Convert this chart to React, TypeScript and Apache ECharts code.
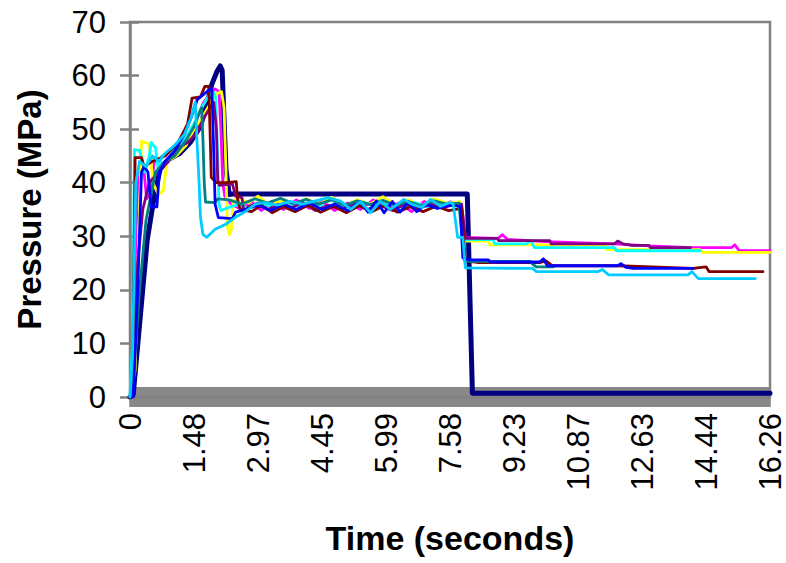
import React, { useEffect, useRef } from "react";
import * as echarts from "echarts";

// Category tick labels (time in seconds) shown every 100 samples
const TICK_LABELS = ["0", "1.48", "2.97", "4.45", "5.99", "7.58", "9.23", "10.87", "12.63", "14.44", "16.26"];
const SAMPLES_PER_LABEL = 100;
const SAMPLE_MAX = 1000;

const Y_MIN = 0;
const Y_MAX = 70;
const Y_STEP = 10;

// Each series: [sample index, pressure MPa]
const run1: number[][] = [[0,0],[5,0.4],[27,29.4],[38,37.5],[47,42.5],[60,44.3],[78,45.5],[94,47.5],[110,50.5],[120,54.6],[128,58.4],[136,60.8],[141,61.8],[144,61],[147,51.8],[150,42.5],[155,37.8],[160,37.9],[527,37.9],[535,0.7],[1000,0.7]];
const run2: number[][] = [[0,0],[5,1.5],[9,30],[13,42],[22,42],[26,37],[32,38],[38,44],[50,43.5],[65,45],[80,46.5],[95,49],[105,52],[115,55],[125,56.5],[133,57.5],[139,57],[142,50],[145,40],[148,37.5],[158,36],[175,35],[190,36.5],[205,34.8],[222,36.5],[240,35],[260,36.8],[280,35.2],[300,36.5],[320,34.8],[340,36.2],[360,35],[380,36.8],[400,35.4],[420,36.2],[440,34.6],[460,36.5],[480,35.3],[500,36.4],[518,36],[524,29.8],[575,29.6],[582,30.3],[590,29.4],[650,29],[757,28.6],[811,28.2],[876,27.9],[940,27.9],[945,28.4],[952,27.3],[1000,27.3]];
const run3: number[][] = [[0,0],[8,5],[18,47.8],[30,47.2],[36,40],[44,37.8],[52,38.5],[58,44],[72,45],[88,47],[100,50],[112,52],[124,54.5],[134,56.5],[143,57],[147,54],[150,42],[152,32],[155,30.3],[158,31],[161,36.5],[170,37.2],[185,36.2],[200,37.5],[218,35.8],[235,36.6],[255,35.6],[275,37],[295,36],[315,37.3],[335,35.6],[355,36.8],[375,36],[395,37.4],[415,35.8],[435,36.8],[455,35.6],[475,37],[495,36.2],[516,36.4],[524,29.1],[560,29.1],[562,28.4],[742,28.4],[745,27.5],[891,27.5],[895,27],[1000,27]];
const run4: number[][] = [[0,0],[4,10],[7,46.2],[15,46],[23,42],[30,45],[33,47.5],[40,46.5],[44,42.5],[50,45],[65,46],[85,48],[100,51],[112,54],[122,56],[130,57],[134,56],[137,45],[139,36],[142,34.8],[150,35.2],[165,35.8],[185,35.3],[205,36.2],[225,35.4],[245,36.3],[265,35.5],[285,36.5],[305,35.4],[325,36.2],[345,35.3],[365,36.4],[385,35.5],[405,36.2],[425,35.4],[445,36.3],[465,35.5],[485,36.2],[505,35.8],[514,35.8],[522,29.4],[567,29.4],[570,28.6],[620,28.6],[626,29.3],[632,27.9],[757,27.9],[760,27.3],[891,27.3]];
const run5: number[][] = [[0,0],[5,1],[12,25],[20,35],[30,40],[45,42],[60,44],[75,46.5],[90,47.5],[105,49.4],[115,52],[125,54],[131,55],[135,50],[137,40.5],[140,39.5],[160,39.8],[165,37.5],[175,37.2],[178,34.5],[185,35.5],[200,36.2],[215,35],[232,36],[250,35.2],[270,36.3],[290,34.8],[310,35.8],[330,35],[350,36.2],[370,35],[390,35.8],[410,34.8],[430,36],[450,35.2],[470,36],[490,35.4],[510,36],[518,36],[524,29.6],[574,29.6],[576,29.2],[656,29.2],[658,28.6],[757,28.6],[762,29.1],[770,28.6],[784,28.3],[811,28.3],[813,27.9],[876,27.9]];
const run6: number[][] = [[0,0],[4,1],[8,44.7],[18,44.7],[22,43],[35,44],[55,45],[75,47.5],[90,51],[97,55.8],[110,56],[117,58],[123,58],[125,50],[127,41],[135,40],[150,40],[166,40.2],[168,37],[172,35],[190,34.6],[205,35.8],[222,34.4],[240,35.5],[258,34.6],[278,35.8],[298,34.5],[318,35.6],[338,34.4],[358,35.7],[378,34.6],[398,35.8],[418,34.5],[438,35.5],[458,34.6],[478,35.6],[498,34.8],[518,35.2],[524,25.4],[545,25.1],[640,25.1],[650,25.4],[660,24.5],[762,24.5],[880,24],[900,24.3],[905,23.4],[989,23.4]];
const run7: number[][] = [[0,0],[5,3],[15,20],[25,33],[40,42],[55,44],[70,45],[88,48],[100,50.5],[108,53],[112,54],[114,48],[116,40],[118,36.4],[133,36.3],[137,37],[155,36.8],[175,36],[195,37],[215,36.2],[235,37.1],[255,36.1],[275,36.9],[295,36],[315,36.8],[335,35.8],[355,36.6],[375,35.9],[395,36.7],[415,35.8],[435,36.5],[455,35.7],[475,36.6],[495,36],[514,36.2],[522,25.6],[530,25.3],[625,25.3],[629,24.8],[635,24.3],[662,24.3]];
const run8: number[][] = [[0,0],[5,0],[12,20],[18,42],[22,43],[28,42],[33,35.5],[42,35.5],[46,42],[55,44],[70,46],[85,49],[95,52],[105,55.5],[115,56.5],[125,57.5],[128,57.5],[131,45],[133,36],[138,33.5],[160,33.3],[165,34.5],[180,35],[200,35.8],[220,34.8],[240,36],[260,35],[280,36.2],[300,35],[320,36],[340,34.8],[360,36.5],[372,34.5],[385,36.6],[397,34.4],[410,36.5],[422,34.5],[435,36.4],[448,34.6],[462,36],[480,35.2],[500,35.8],[516,35.6],[520,26],[530,25.6],[560,25.6],[563,25.2],[640,25.2],[646,25.8],[652,24.5],[762,24.5],[767,24.9],[775,24.2],[786,24],[880,24]];
const run9: number[][] = [[0,0],[4,8],[9,40],[15,44],[25,43],[35,45],[45,44],[55,45.5],[70,47],[85,49],[95,52],[102,55],[105,47],[108,40],[110,33.7],[114,30.3],[120,29.8],[133,31.3],[149,32.2],[164,33.5],[180,34.6],[196,36],[210,36.3],[230,35.8],[250,36.5],[270,36],[290,36.6],[310,37.2],[330,36.5],[345,35],[360,36.5],[376,34.4],[391,36.5],[407,35],[428,36.9],[440,36],[456,35.4],[470,36.9],[485,35.6],[500,36.3],[505,36],[512,29.8],[520,29.8],[524,24.1],[629,24],[635,23.4],[731,23.4],[738,23.8],[748,22.8],[872,22.8],[878,23.4],[888,22.1],[977,22.1]];

const RUNS = [run1, run2, run3, run4, run5, run6, run7, run8, run9];
const RUN_NAMES = ["Run 1", "Run 2", "Run 3", "Run 4", "Run 5", "Run 6", "Run 7", "Run 8", "Run 9"];
const RUN_COLORS = ["#000080", "#FF00FF", "#FFFF00", "#00FFFF", "#800080", "#800000", "#008080", "#0000FF", "#00CCFF"];
const RUN_WIDTHS = [5, 2.8, 2.8, 2.8, 2.8, 2.8, 2.8, 2.8, 2.8];

const FONT = "'Liberation Sans', Arial, sans-serif";
const GREY = "#808080";

export default function App() {
  const ref = useRef<HTMLDivElement>(null);
  useEffect(() => {
    if (!ref.current) return;
    const chart = echarts.init(ref.current, undefined, { renderer: "svg" });
    chart.setOption({
      animation: false,
      backgroundColor: "#ffffff",
      grid: {
        left: 130, right: 16, top: 22, bottom: 166,
        show: true, borderColor: GREY, borderWidth: 2.5, backgroundColor: "transparent",
      },
      xAxis: [
        {
          type: "value", min: 0, max: SAMPLE_MAX, interval: SAMPLES_PER_LABEL, position: "bottom",
          name: "Time (seconds)", nameLocation: "middle", nameGap: 124,
          nameTextStyle: { fontFamily: FONT, fontSize: 34, fontWeight: "bold", color: "#000" },
          axisLine: { show: true, lineStyle: { color: GREY, width: 2 } },
          axisTick: { show: false },
          minorTick: { show: false },
          splitLine: { show: false },
          minorSplitLine: { show: false },
          axisLabel: {
            rotate: 90, margin: 16, fontSize: 31, fontFamily: FONT, color: "#000",
            formatter: (v: number) => TICK_LABELS[Math.round(v / SAMPLES_PER_LABEL)] ?? "",
          },
        },
        {
          type: "value", min: 0, max: SAMPLE_MAX, interval: SAMPLES_PER_LABEL, position: "bottom",
          offset: 10,
          axisLine: { show: false, onZero: false },
          axisTick: { show: true, inside: true, length: 20, lineStyle: { color: GREY, width: 1.5 } },
          minorTick: { show: true, splitNumber: 64, length: 20, lineStyle: { color: GREY, width: 1.5 } },
          splitLine: { show: false },
          minorSplitLine: { show: false },
          axisLabel: { show: false },
        },
      ],
      yAxis: [
        {
          type: "value", min: Y_MIN, max: Y_MAX, interval: Y_STEP, position: "left",
          name: "Pressure (MPa)", nameLocation: "middle", nameGap: 84, nameRotate: 90,
          nameTextStyle: { fontFamily: FONT, fontSize: 33, fontWeight: "bold", color: "#000" },
          axisLine: { show: true, lineStyle: { color: GREY, width: 2.5 } },
          axisTick: { show: false },
          splitLine: { show: false },
          axisLabel: { margin: 24, fontSize: 31, fontFamily: FONT, color: "#000" },
        },
        {
          type: "value", min: Y_MIN, max: Y_MAX, interval: Y_STEP, position: "left",
          offset: 10,
          axisLine: { show: false, onZero: false },
          axisTick: { show: true, inside: true, length: 19, lineStyle: { color: GREY, width: 2.5 } },
          splitLine: { show: false },
          axisLabel: { show: false },
        },
      ],
      series: RUNS.map((d, i) => ({
        name: RUN_NAMES[i],
        type: "line",
        data: d,
        showSymbol: false,
        symbol: "none",
        color: RUN_COLORS[i],
        lineStyle: { color: RUN_COLORS[i], width: RUN_WIDTHS[i], cap: "round", join: "round" },
        z: 2 + i * 0.01,
      })),
    });
    return () => chart.dispose();
  }, []);
  return <div ref={ref} style={{ position: "absolute", left: 0, top: 0, width: 786, height: 563 }} />;
}
